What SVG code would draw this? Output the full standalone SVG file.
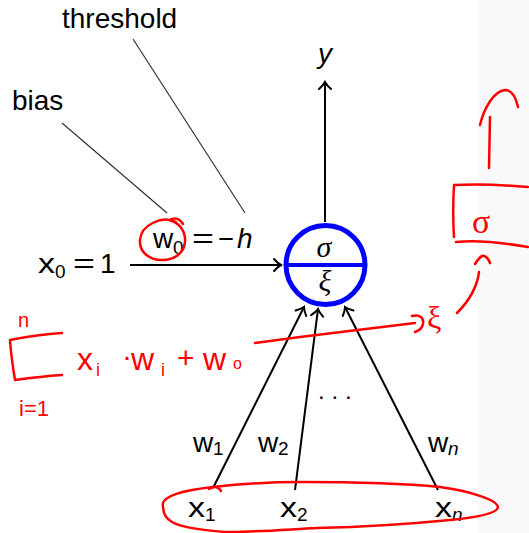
<svg xmlns="http://www.w3.org/2000/svg" width="529" height="533" viewBox="0 0 529 533">
<defs>
<style>
.sans{font-family:"Liberation Sans",Arial,sans-serif;fill:#000}
.serif{font-family:"Liberation Serif","Times New Roman",serif;fill:#000}
.big{font-size:28px}
.sub{font-size:19px}
.it{font-style:italic}
.edge{stroke:#000;stroke-width:2;fill:none}
.lead{stroke:#333;stroke-width:1.2;fill:none}
.ink{stroke:#f00;stroke-width:2.5;fill:none;stroke-linecap:round;stroke-linejoin:round}
.inktext{font-family:"Liberation Sans",Arial,sans-serif;fill:#f00}
</style>
<marker id="arr" viewBox="-10 -8 12 16" refX="0" refY="0" markerWidth="12" markerHeight="16" markerUnits="userSpaceOnUse" orient="auto">
<path d="M-7,-6 Q-3,-1.5 0,0 Q-3,1.5 -7,6" stroke="#000" stroke-width="2" fill="none" stroke-linecap="round"/>
</marker>
</defs>
<rect x="0" y="0" width="529" height="533" fill="#fff"/>
<rect x="477" y="0" width="52" height="533" fill="#f9f9f9"/>

<g id="connectors">
<line class="edge" x1="325" y1="222" x2="325" y2="82" marker-end="url(#arr)"/>
<line class="edge" x1="130" y1="265" x2="281" y2="265" marker-end="url(#arr)"/>
<line class="edge" x1="213" y1="488" x2="304" y2="307" marker-end="url(#arr)"/>
<line class="edge" x1="295" y1="490" x2="318" y2="309" marker-end="url(#arr)"/>
<line class="edge" x1="438" y1="490" x2="345" y2="307" marker-end="url(#arr)"/>
<line class="lead" x1="62" y1="123" x2="167" y2="213"/>
<line class="lead" x1="133" y1="39" x2="245" y2="213"/>
</g>

<g id="neuron">
<circle cx="325.5" cy="265" r="39.5" fill="#fff" stroke="#00f" stroke-width="5"/>
<line x1="286" y1="265" x2="365" y2="265" stroke="#00f" stroke-width="4"/>
<text class="serif it" x="324" y="257" font-size="30" text-anchor="middle">σ</text>
<text class="serif it" x="325" y="291" font-size="30" text-anchor="middle">ξ</text>
</g>

<g id="output-y">
<text class="sans big it" x="325" y="63" text-anchor="middle">y</text>
</g>

<g id="label-threshold">
<text class="sans big" x="62" y="28">threshold</text>
</g>
<g id="label-bias">
<text class="sans big" x="12" y="110">bias</text>
</g>

<g id="weight-w0">
<text class="sans big" x="153" y="248">w</text>
<text class="sans sub" x="173" y="254">0</text>
<text class="sans big" x="192" y="248" textLength="22" lengthAdjust="spacingAndGlyphs">=</text>
<text class="sans big" x="218" y="248" textLength="16" lengthAdjust="spacingAndGlyphs">−</text>
<text class="sans big it" x="237" y="248">h</text>
</g>

<g id="input-x0">
<text class="sans big" x="38" y="273" textLength="17" lengthAdjust="spacingAndGlyphs">x</text>
<text class="sans sub" x="55" y="278">0</text>
<text class="sans big" x="73" y="273" textLength="22" lengthAdjust="spacingAndGlyphs">=</text>
<text class="sans big" x="100" y="273">1</text>
</g>

<g id="weights">
<text class="sans big" x="193" y="452">w</text><text class="sans sub" x="213" y="455">1</text>
<text class="sans big" x="258" y="452">w</text><text class="sans sub" x="278" y="455">2</text>
<text class="sans big" x="428" y="452">w</text><text class="sans sub it" x="448" y="455">n</text>
<text class="sans" x="318 331.5 345" y="399" font-size="24">...</text>
</g>

<g id="input-x1">
<text class="sans big" x="188" y="517" textLength="17" lengthAdjust="spacingAndGlyphs">x</text><text class="sans sub" x="205" y="521">1</text>
</g>
<g id="input-x2">
<text class="sans big" x="280" y="517" textLength="17" lengthAdjust="spacingAndGlyphs">x</text><text class="sans sub" x="297" y="521">2</text>
</g>
<g id="input-xn">
<text class="sans big" x="435" y="517" textLength="17" lengthAdjust="spacingAndGlyphs">x</text><text class="sans sub it" x="452" y="521">n</text>
</g>

<g id="annotations">
<path class="ink" d="M176,222 C162,215 141,225 140,240 C139,253 151,261 164,260 C178,259 186,250 185,238 C184,229 178,222 169,220 C175,217 180,219 183,224"/>
<path class="ink" d="M163,506 C160,496 185,490 213,487 C250,483 280,482 300,482 C360,482 410,484 440,487 C470,491 497,500 498,507 C498,514 470,518 450,520 C400,525 360,527 317,528 C280,530 250,532 233,532 C210,532 180,527 172,522 C165,518 163,512 163,506 Z"/>
<path class="ink" d="M209,489 C213,486 218,486 221,491"/>
<path class="ink" d="M62,333 C45,334 25,337 10,340 C11,355 13,368 15,380 C30,378 48,376 62,375"/>
<text class="inktext" x="18" y="327" font-size="20">n</text>
<text class="inktext" x="19" y="416" font-size="22">i=1</text>
<text class="inktext" x="77" y="370" font-size="32">x</text>
<text class="inktext" x="96" y="376" font-size="18">i</text>
<text class="inktext" x="122" y="366" font-size="30">·</text>
<text class="inktext" x="131" y="370" font-size="32">w</text>
<text class="inktext" x="161" y="376" font-size="18">i</text>
<text class="inktext" x="177" y="368" font-size="30">+</text>
<text class="inktext" x="203" y="370" font-size="32">w</text>
<text class="inktext" x="233" y="369" font-size="16">o</text>
<path class="ink" d="M255,343 L300,337 L415,323"/>
<path class="ink" d="M412,316 C420,314 424,318 423,324 C422,329 418,331 415,332"/>
<text class="inktext" x="427" y="328" font-size="32" style="font-family:'Liberation Serif',serif">ξ</text>
<path class="ink" d="M457,313 C468,302 477,288 479,272"/>
<path class="ink" d="M475,264 C478,259 482,255 484,256 C487,257 489,260 490,263"/>
<path class="ink" d="M528,187 C505,185 475,184 454,185 C453,202 453,222 454,237 M456,242 C475,240 500,242 528,247"/>
<text class="inktext" x="472" y="233" font-size="34" style="font-family:'Liberation Serif',serif">σ</text>
<path class="ink" d="M489,168 L490,117"/>
<path class="ink" d="M480,125 C484,108 494,91 505,90 C512,90 516,98 518,107"/>
</g>
</svg>
